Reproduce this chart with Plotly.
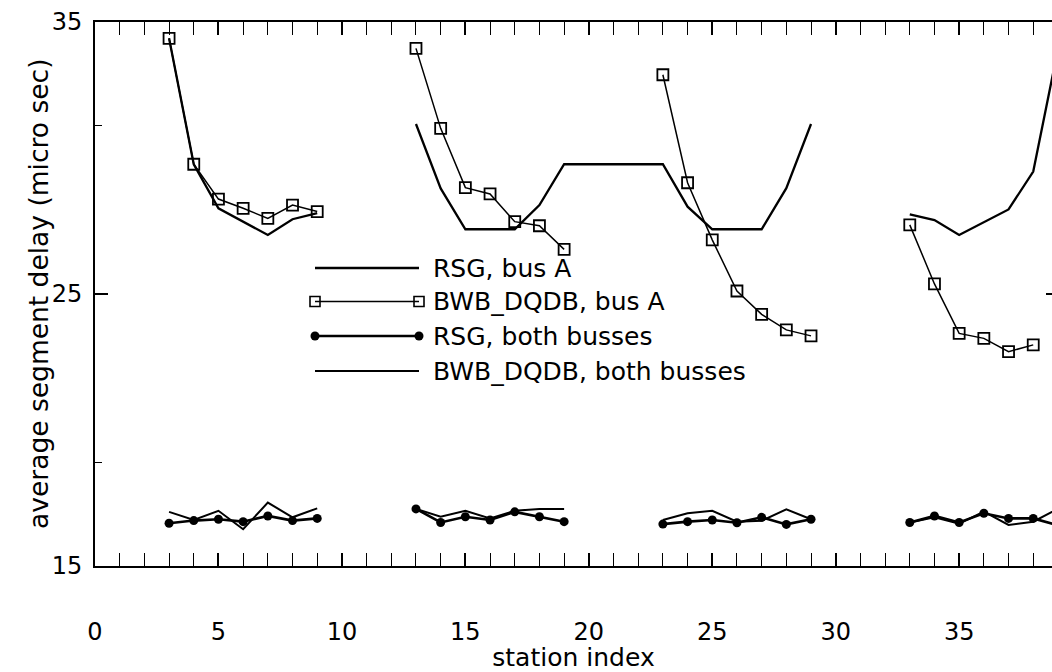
import plotly.graph_objects as go

# Station groups (stations 3-9, 13-19, 23-29, 33-39); None breaks a line between groups
rsg_a_x = [3, 4, 5, 6, 7, 8, 9, None,
           13, 14, 15, 16, 17, 18, 19, 20, 21, 22, 23, 24, 25, 26, 27, 28, 29, None,
           33, 34, 35, 36, 37, 38, 39]
rsg_a_y = [34.40, 29.77, 28.15, 27.66, 27.17, 27.75, 27.97, None,
           31.25, 28.88, 27.38, 27.38, 27.38, 28.27, 29.77, 29.77, 29.77, 29.77, 29.77,
           28.21, 27.38, 27.38, 27.38, 28.89, 31.25, None,
           27.93, 27.72, 27.17, 27.64, 28.11, 29.50, 34.00]

bwb_a_x = [3, 4, 5, 6, 7, 8, 9, None,
           13, 14, 15, 16, 17, 18, 19, None,
           23, 24, 25, 26, 27, 28, 29, None,
           33, 34, 35, 36, 37, 38]
bwb_a_y = [34.40, 29.77, 28.49, 28.15, 27.78, 28.27, 28.03, None,
           34.03, 31.09, 28.91, 28.68, 27.66, 27.51, 26.64, None,
           33.06, 29.09, 26.99, 25.11, 24.25, 23.68, 23.46, None,
           27.54, 25.37, 23.55, 23.37, 22.88, 23.13]

both_x = [3, 4, 5, 6, 7, 8, 9, None,
          13, 14, 15, 16, 17, 18, 19, None,
          23, 24, 25, 26, 27, 28, 29, None,
          33, 34, 35, 36, 37, 38, 39]
rsg_both_y = [16.57, 16.67, 16.72, 16.63, 16.84, 16.67, 16.75, None,
              17.10, 16.60, 16.81, 16.69, 16.99, 16.81, 16.63, None,
              16.54, 16.63, 16.69, 16.59, 16.79, 16.53, 16.72, None,
              16.60, 16.84, 16.60, 16.94, 16.75, 16.75, 16.50]
bwb_both_y = [16.99, 16.69, 17.03, 16.35, 17.33, 16.79, 17.12, None,
              17.10, 16.81, 17.03, 16.75, 17.03, 17.10, 17.10, None,
              16.69, 16.94, 17.03, 16.63, 16.66, 17.08, 16.72, None,
              16.60, 16.79, 16.56, 17.00, 16.51, 16.63, 17.10]

x_range = [0, 38.76]
y_range = [15, 35]
y_major = [15, 25, 35]
y_minor = [18.8, 31.2]

FONT = "DejaVu Sans"
INK = "black"

series = [
    dict(name="RSG, bus A", x=rsg_a_x, y=rsg_a_y, width=2.3, symbol=None),
    dict(name="BWB_DQDB, bus A", x=bwb_a_x, y=bwb_a_y, width=1.5, symbol="square-open"),
    dict(name="RSG, both busses", x=both_x, y=rsg_both_y, width=2.6, symbol="circle"),
    dict(name="BWB_DQDB, both busses", x=both_x, y=bwb_both_y, width=2.0, symbol=None),
]

fig = go.Figure()
for s in series:
    marker = None
    mode = "lines"
    if s["symbol"]:
        mode = "lines+markers"
        if s["symbol"] == "square-open":
            marker = dict(symbol="square-open", size=11, color=INK, line=dict(width=1.8, color=INK))
        else:
            marker = dict(symbol="circle", size=9, color=INK)
    fig.add_trace(go.Scatter(x=s["x"], y=s["y"], mode=mode, name=s["name"],
                             line=dict(color=INK, width=s["width"]), marker=marker,
                             connectgaps=False, showlegend=False, cliponaxis=True))

# Hand-drawn key on an overlay axis measured in pixels of the plot area
key_x0, key_x1 = 311, 421
key_rows = [268, 301.5, 336, 371]
for s, ky in zip(series, key_rows):
    mode = "lines+markers" if s["symbol"] else "lines"
    marker = None
    if s["symbol"] == "square-open":
        marker = dict(symbol="square-open", size=10, color=INK, line=dict(width=1.6, color=INK))
    elif s["symbol"] == "circle":
        marker = dict(symbol="circle", size=9, color=INK)
    fig.add_trace(go.Scatter(x=[key_x0 + 4, key_x1 - 2], y=[ky, ky], mode=mode,
                             line=dict(color=INK, width=s["width"]), marker=marker,
                             xaxis="x2", yaxis="y2", showlegend=False, hoverinfo="skip"))
    fig.add_annotation(x=key_x1 + 10, y=ky, xref="x2", yref="y2", text=s["name"],
                       showarrow=False, xanchor="left", yanchor="middle",
                       font=dict(family=FONT, size=25, color=INK))

# Vertical axis title, centred on the plot area
fig.add_annotation(x=-0.0596, y=0.5, xref="paper", yref="paper",
                   text="average segment delay (micro sec)", textangle=-90,
                   showarrow=False, xanchor="center", yanchor="middle",
                   font=dict(family=FONT, size=26.5, color=INK))

# Empty trace so the right-hand tick axis is drawn
fig.add_trace(go.Scatter(x=[], y=[], xaxis="x", yaxis="y3", showlegend=False))

fig.update_layout(
    template="none",
    width=1052, height=672,
    margin=dict(l=95, r=0, t=22, b=106),
    paper_bgcolor="white", plot_bgcolor="white",
    font=dict(family=FONT, color=INK),
    showlegend=False,
    xaxis=dict(range=x_range, showline=True, linecolor=INK, linewidth=2, mirror="allticks",
               ticks="inside", ticklen=13, tickwidth=1.5, tickcolor=INK,
               tick0=0, dtick=5, showgrid=False, zeroline=False, automargin=False,
               tickfont=dict(family=FONT, size=24, color=INK), ticklabelstandoff=43,
               minor=dict(dtick=1, ticks="inside", ticklen=7, tickwidth=1.2, tickcolor=INK,
                          showgrid=False),
               title=dict(text="station index", font=dict(family=FONT, size=25, color=INK),
                          standoff=20)),
    yaxis=dict(range=y_range, showline=True, linecolor=INK, linewidth=2, mirror=False,
               ticks="inside", ticklen=13, tickwidth=1.5, tickcolor=INK,
               tickmode="array", tickvals=y_major, showgrid=False, zeroline=False,
               automargin=False, tickfont=dict(family=FONT, size=24, color=INK),
               ticklabelstandoff=6,
               minor=dict(tickmode="array", tickvals=y_minor, ticks="inside", ticklen=7,
                          tickwidth=1.2, tickcolor=INK, showgrid=False)),
    xaxis2=dict(overlaying="x", range=[95, 1052], visible=False, fixedrange=True),
    yaxis2=dict(overlaying="y", range=[566, 22], visible=False, fixedrange=True),
    yaxis3=dict(overlaying="y", side="right", range=y_range, tickmode="array", tickvals=[25],
                ticks="inside", ticklen=6, tickwidth=1.5, tickcolor=INK, showticklabels=False,
                showline=False, showgrid=False, zeroline=False),
)

fig.write_html("out.html")
